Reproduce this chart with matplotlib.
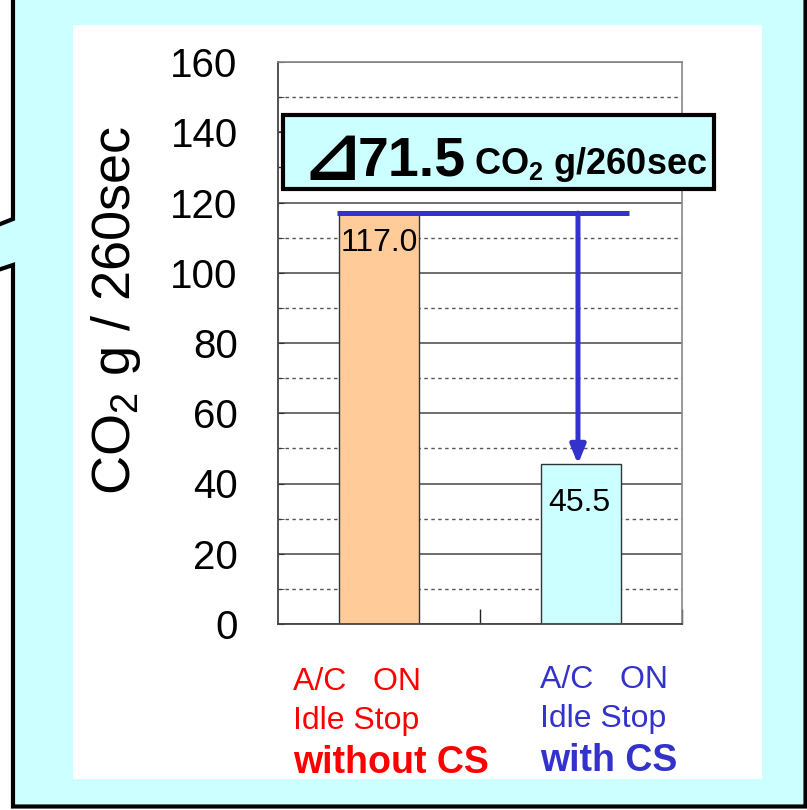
import matplotlib
matplotlib.use("Agg")
import matplotlib.pyplot as plt
from matplotlib.patches import Polygon, Rectangle
from matplotlib.ticker import MultipleLocator

# ---- data ----
categories = ["A/C ON Idle Stop without CS", "A/C ON Idle Stop with CS"]
values = [117.0, 45.5]
bar_colors = ["#FFCC99", "#CCFFFF"]
label_lines = [["A/C   ON", "Idle Stop", "without CS"],
               ["A/C   ON", "Idle Stop", "with CS"]]
label_colors = ["#FF0000", "#3333CC"]
y_ticks = [0, 20, 40, 60, 80, 100, 120, 140, 160]
unit_text = "g/260sec"

plt.rcParams['font.family'] = ['Liberation Sans', 'DejaVu Sans']
plt.rcParams['mathtext.fontset'] = 'custom'
plt.rcParams['mathtext.rm'] = 'Liberation Sans'
plt.rcParams['mathtext.bf'] = 'Liberation Sans:bold'

W, H = 807, 810
fig = plt.figure(figsize=(W / 100, H / 100), dpi=100, facecolor="white")


def P(x, y):
    return (x / W, 1 - y / H)


# callout frame
frame_pts = [P(13, -10), P(13, 219), P(-20, 232), P(-20, 276), P(13, 265),
             P(13, 806.5), P(805.5, 806.5), P(805.5, -10)]
fig.add_artist(Polygon(frame_pts, closed=True, facecolor="#CCFFFF", edgecolor="black",
                       lw=3, transform=fig.transFigure, zorder=-3, clip_on=False))
x0, y0 = P(73, 779)
x1, y1 = P(762, 25)
fig.add_artist(Rectangle((x0, y0), x1 - x0, y1 - y0, facecolor="white", edgecolor="none",
                         transform=fig.transFigure, zorder=-2))

# axes
ax = fig.add_axes([278 / W, 1 - 624 / H, 404 / W, 562 / H])
ax.set_zorder(1)
ax.set_facecolor("white")
ax.set_xlim(0.5, 2.5)
ax.set_ylim(0, 160)
xpos = [1, 2]
ax.bar(xpos, values, width=0.4, color=bar_colors, edgecolor="#333333", lw=1, zorder=2)

ax.yaxis.set_major_locator(MultipleLocator(20))
ax.yaxis.set_minor_locator(MultipleLocator(10))
ax.set_yticks(y_ticks)
ax.grid(axis="y", which="major", color="#555555", lw=1.2, ls="-", zorder=1)
ax.grid(axis="y", which="minor", color="#555555", lw=1.0, ls=(0, (2.5, 2.5)), zorder=1)
ax.set_axisbelow(True)
ax.tick_params(axis="y", which="major", direction="in", length=4, labelsize=29, pad=29,
               color="#333333")
ax.tick_params(axis="y", which="minor", direction="in", length=4, color="#333333")
ax.set_xticks([1.5, 2.5])
ax.set_xticklabels([])
ax.tick_params(axis="x", direction="in", length=11, width=1, color="#222222")
for s in ["left", "bottom"]:
    ax.spines[s].set_color("#444444")
    ax.spines[s].set_linewidth(1.3)
for s in ["right", "top"]:
    ax.spines[s].set_color("#888888")
    ax.spines[s].set_linewidth(1.2)

fig.text(*P(116, 310), "CO$_2$ g / 260sec", fontsize=39, rotation=90,
         ha="center", va="center")

# bar value labels
ax.text(xpos[0], values[0] - 8.5, f"{values[0]:.1f}", ha="center", va="center", fontsize=23,
        zorder=5)
ax.text(xpos[1] - 0.01, values[1] - 11, f"{values[1]:.1f}", ha="center", va="center",
        fontsize=23, zorder=5)

# blue difference line and arrow
blue = "#3333CC"
ax.plot([0.79, 2.24], [values[0], values[0]], color=blue, lw=3.6, solid_capstyle="butt",
        zorder=4)
ax.annotate("", xy=(1.985, values[1]), xytext=(1.985, values[0]),
            arrowprops=dict(arrowstyle="-|>,head_length=1.1,head_width=0.45", color=blue,
                            lw=3.6, shrinkA=0, shrinkB=0), zorder=4)

# delta box
bx0, by0 = P(283, 189)
bx1, by1 = P(714, 115)
fig.add_artist(Rectangle((bx0, by0), bx1 - bx0, by1 - by0, facecolor="#CCFFFF",
                         edgecolor="black", lw=3, transform=fig.transFigure, zorder=10))
diff = values[0] - values[1]
fig.text(*P(302, 180), "\u22bf", fontsize=51, fontweight="bold", ha="left",
         va="baseline", family=["DejaVu Sans"], zorder=11)
fig.text(*P(358, 175), f"{diff:.1f}", fontsize=40, fontweight="bold", ha="left",
         va="baseline", zorder=11)
fig.text(*P(474, 174), "CO$_\\mathbf{2}$ " + unit_text, fontsize=26, fontweight="bold",
         ha="left", va="baseline", zorder=11)

# category labels
xs = [293, 540]
ys = [[678, 717, 759], [676, 715, 757]]
for i in range(2):
    for j, line in enumerate(label_lines[i]):
        bold = j == 2
        fig.text(*P(xs[i], ys[i][j]), line, fontsize=27 if bold else 23,
                 fontweight="bold" if bold else "normal", color=label_colors[i],
                 ha="left", va="center_baseline", zorder=11)

fig.savefig("out.png", dpi=100, facecolor="white")
